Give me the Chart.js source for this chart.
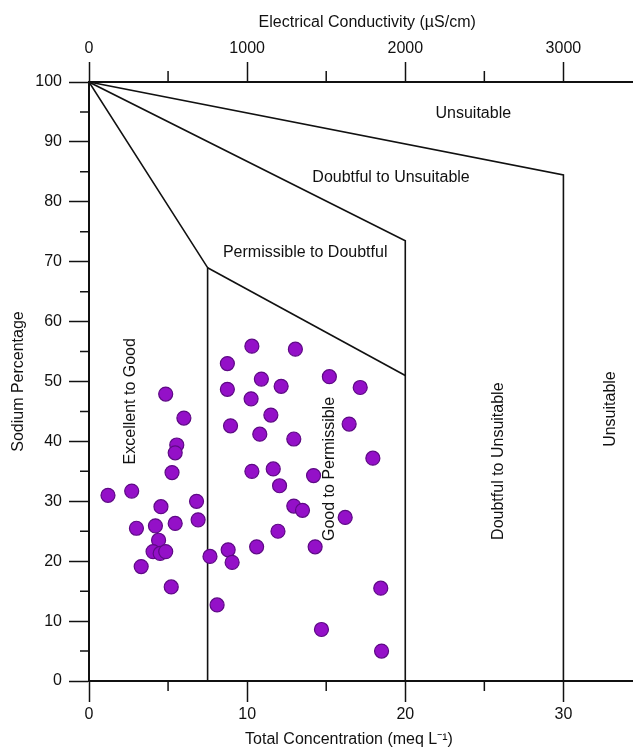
<!DOCTYPE html>
<html><head><meta charset="utf-8">
<script src="https://cdn.jsdelivr.net/npm/chart.js@4.4.1/dist/chart.umd.min.js"></script>
<style>html,body{margin:0;padding:0;background:#fff}#wrap{width:633px;height:749px;position:relative}</style>
</head><body><div id="wrap"><canvas id="c" width="633" height="749"></canvas></div>
<script>
// ---- data ----
const totalConcentration = [1.2,2.7,3.0,3.3,4.85,6.0,5.55,5.45,5.25,4.55,6.8,6.9,4.2,5.45,4.4,4.05,4.5,4.85,5.2,7.65,8.1,8.8,9.05,8.75,8.75,8.95,
  10.3,13.05,10.9,12.15,10.25,15.2,17.15,11.5,10.8,12.95,16.45,17.95,10.3,11.65,12.05,14.2,12.95,13.5,16.2,11.95,10.6,14.3,18.45,14.7,18.5];
const sodiumPercentage = [31.0,31.7,25.5,19.1,47.9,43.9,39.4,38.1,34.8,29.1,30.0,26.9,25.9,26.3,23.5,21.6,21.3,21.6,15.7,20.8,12.7,21.9,19.8,53.0,48.7,42.6,
  55.9,55.4,50.4,49.2,47.1,50.8,49.0,44.4,41.2,40.4,42.9,37.2,35.0,35.4,32.6,34.3,29.2,28.5,27.3,25.0,22.4,22.4,15.5,8.6,5.0];

// class boundaries (meq/L, Na %)
const excellentBoundX = [0, 7.5, 7.5];
const excellentBoundY = [100, 69, 0];
const goodBoundX = [7.5, 20];
const goodBoundY = [69, 51];
const permissibleBoundX = [0, 20, 20];
const permissibleBoundY = [100, 73.5, 0];
const doubtfulBoundX = [0, 30, 30];
const doubtfulBoundY = [100, 84.5, 0];

// ticks
const tcTicks = [0, 10, 20, 30];
const tcMinorTicks = [5, 15, 25];
const ecTicks = [0, 1000, 2000, 3000];
const ecMinorTicks = [500, 1500, 2500];
const naTicks = [0, 10, 20, 30, 40, 50, 60, 70, 80, 90, 100];
const naMinorTicks = [5, 15, 25, 35, 45, 55, 65, 75, 85, 95];

// region names
const regionNames = ['Unsuitable', 'Doubtful to Unsuitable', 'Permissible to Doubtful', 'Excellent to Good',
  'Good to Permissible', 'Doubtful to Unsuitable', 'Unsuitable'];
</script>
<script>
const FONT = '"Liberation Sans", Arial, sans-serif';
const INK = '#111';
const regionAnchors = [
  {x: 24.3, y: 94.7, v: false}, {x: 19.1, y: 84.1, v: false}, {x: 13.67, y: 71.45, v: false},
  {x: 2.6, y: 46.7, v: true}, {x: 15.2, y: 35.4, v: true}, {x: 25.9, y: 36.7, v: true}, {x: 33.0, y: 45.4, v: true}
];
const pts = (xs, ys) => xs.map((x, i) => ({x, y: ys[i]}));
const lineDs = (xs, ys) => ({data: pts(xs, ys), showLine: true, borderColor: INK, borderWidth: 1.6,
  pointRadius: 0, fill: false, tension: 0, order: 2});

const regionLabelPlugin = {
  id: 'regionLabels',
  beforeDatasetsDraw(chart) {
    const {ctx, scales: {x, y}} = chart;
    ctx.save();
    ctx.fillStyle = INK;
    ctx.font = '16px ' + FONT;
    ctx.textAlign = 'center';
    ctx.textBaseline = 'middle';
    regionNames.forEach((t, i) => {
      const a = regionAnchors[i];
      const px = x.getPixelForValue(a.x), py = y.getPixelForValue(a.y);
      ctx.save();
      ctx.translate(px, py);
      if (a.v) ctx.rotate(-Math.PI / 2);
      ctx.fillText(t, 0, 0);
      ctx.restore();
    });
    ctx.restore();
  }
};
const minorTickPlugin = {
  id: 'minorTicks',
  afterDraw(chart) {
    const {ctx, chartArea: ca, scales: {x, x2, y}} = chart;
    ctx.save();
    ctx.strokeStyle = INK;
    ctx.lineWidth = 1.5;
    ctx.beginPath();
    tcMinorTicks.forEach(v => { const p = x.getPixelForValue(v); ctx.moveTo(p, ca.bottom); ctx.lineTo(p, ca.bottom + 10); });
    ecMinorTicks.forEach(v => { const p = x2.getPixelForValue(v); ctx.moveTo(p, ca.top); ctx.lineTo(p, ca.top - 11); });
    naMinorTicks.forEach(v => { const p = y.getPixelForValue(v); ctx.moveTo(ca.left - 9, p); ctx.lineTo(ca.left, p); });
    ctx.stroke();
    ctx.restore();
  }
};
const plainLabel = v => String(v);

new Chart(document.getElementById('c'), {
  type: 'scatter',
  data: {
    datasets: [
      {data: pts(totalConcentration, sodiumPercentage), pointRadius: 7, pointHoverRadius: 7,
        backgroundColor: '#9410c8', borderColor: '#5e0a85', borderWidth: 1.2, order: 0},
      lineDs(excellentBoundX, excellentBoundY),
      lineDs(goodBoundX, goodBoundY),
      lineDs(permissibleBoundX, permissibleBoundY),
      lineDs(doubtfulBoundX, doubtfulBoundY)
    ]
  },
  options: {
    responsive: false,
    devicePixelRatio: 1,
    animation: false,
    layout: {padding: 0, autoPadding: false},
    plugins: {legend: {display: false}, tooltip: {enabled: false}},
    scales: {
      x: {
        type: 'linear', position: 'bottom', min: 0, max: 34.4,
        afterBuildTicks: s => { s.ticks = tcTicks.map(v => ({value: v})); },
        ticks: {font: {size: 16, family: FONT}, color: INK, padding: 3, maxRotation: 0, autoSkip: false, callback: plainLabel},
        grid: {drawOnChartArea: false, drawTicks: true, tickLength: 21, tickColor: INK, tickWidth: 1.5},
        border: {display: true, color: INK, width: 2},
        title: {display: true, text: 'Total Concentration (meq L\u207B\u00B9)\u2002\u2002\u2002', color: INK,
          font: {size: 16, family: FONT}, padding: {top: 0, bottom: 0}},
        afterFit: s => { s.height = 68; s.paddingLeft = 0; s.paddingRight = 0; }
      },
      x2: {
        type: 'linear', position: 'top', min: 0, max: 3440,
        afterBuildTicks: s => { s.ticks = ecTicks.map(v => ({value: v})); },
        ticks: {font: {size: 16, family: FONT}, color: INK, padding: 4, maxRotation: 0, autoSkip: false, callback: plainLabel},
        grid: {drawOnChartArea: false, drawTicks: true, tickLength: 20, tickColor: INK, tickWidth: 1.5},
        border: {display: true, color: INK, width: 2},
        title: {display: true, text: '\u2002 Electrical Conductivity (\u00B5S/cm)', color: INK,
          font: {size: 16, family: FONT}, padding: {top: 13, bottom: 0}},
        afterFit: s => { s.height = 82; s.paddingLeft = 0; s.paddingRight = 0; }
      },
      y: {
        type: 'linear', position: 'left', min: 0, max: 100,
        afterBuildTicks: s => { s.ticks = naTicks.map(v => ({value: v})); },
        ticks: {font: {size: 16, family: FONT}, color: INK, padding: 7, autoSkip: false},
        grid: {drawOnChartArea: false, drawTicks: true, tickLength: 20, tickColor: INK, tickWidth: 1.5},
        border: {display: true, color: INK, width: 2},
        title: {display: true, text: 'Sodium Percentage', color: INK,
          font: {size: 16, family: FONT}, padding: {top: 9, bottom: 0}},
        afterFit: s => { s.width = 89; s.paddingTop = 0; s.paddingBottom = 0; }
      }
    }
  },
  plugins: [regionLabelPlugin, minorTickPlugin]
});
</script>
</body></html>
